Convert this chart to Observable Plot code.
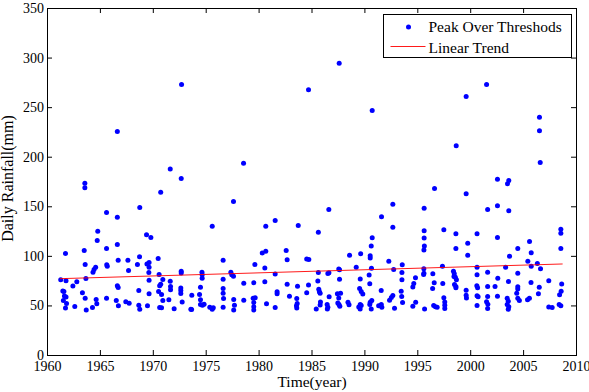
<!DOCTYPE html>
<html>
<head>
<meta charset="utf-8">
<script src="https://cdn.jsdelivr.net/npm/d3@7"></script>
<script src="https://cdn.jsdelivr.net/npm/@observablehq/plot@0.6"></script>
<style>
  html, body { margin: 0; padding: 0; background: #fff; }
  #chart { width: 589px; height: 392px; }
  #chart svg text { font-family: "Liberation Serif", "Times New Roman", Times, serif; }
</style>
</head>
<body>
<div id="chart"></div>
<script>
// Peak-over-threshold daily rainfall events: event time (decimal year) and amount (mm)
const years = [
  1961.25,1961.75,1961.7,1961.45,1961.55,1961.6,1961.75,1961.5,1961.8,1961.7,
  1962.77,1962.4,1962.58,
  1963.47,1963.53,1963.53,1963.56,1963.63,1963.3,1963.56,1963.66,
  1964.75,1964.7,1964.55,1964.4,1964.3,1964.25,1964.6,1964.66,
  1965.58,1965.58,1965.6,1965.65,1965.58,
  1966.6,1966.6,1966.6,1966.68,1966.6,1966.68,1966.5,1966.7,
  1967.6,1967.66,1967.4,1967.72,
  1968.72,1968.7,1968.5,1968.63,1968.63,1968.72,
  1969.36,1969.77,1969.4,1969.6,1969.6,1969.58,1969.6,1969.6,1969.45,
  1970.7,1970.46,1970.55,1970.9,1970.6,1970.7,1970.5,1970.78,1970.9,1970.6,1970.78,
  1971.6,1971.6,1971.63,1971.63,1971.47,1971.97,
  1972.67,1972.64,1972.64,1972.64,1972.6,1972.6,1972.6,1972.73,
  1973.64,1973.55,1973.62,
  1974.6,1974.62,1974.62,1974.46,1974.37,1974.46,1974.46,1974.64,1974.8,
  1975.57,1975.34,1975.57,1975.67,
  1976.6,1976.6,1976.6,1976.6,1976.64,1976.6,
  1977.58,1977.33,1977.42,1977.58,1977.6,1977.67,1977.6,
  1978.53,1978.55,1978.55,
  1979.6,1979.5,1979.44,1979.63,1979.5,1979.5,1979.5,
  1980.63,1980.3,1980.63,1980.54,1980.54,1980.7,
  1981.52,1981.52,1981.7,1981.7,1981.52,
  1982.56,1982.65,1982.65,1982.87,
  1983.7,1983.63,1983.56,1983.6,1983.53,1983.56,
  1984.67,1984.5,1984.7,1984.67,1984.5,
  1985.6,1985.6,1985.55,1985.64,1985.7,1985.77,1985.8,1985.77,1985.4,
  1986.59,1986.6,1986.5,1986.62,1986.43,1986.5,1986.45,
  1987.57,1987.53,1987.6,1987.6,1987.4,1987.7,1987.53,1987.44,1987.55,1987.63,
  1988.55,1988.4,1988.5,
  1989.6,1989.18,1989.56,1989.5,1989.65,1989.8,1989.56,1989.65,1989.42,1989.55,
  1990.69,1990.69,1990.6,1990.5,1990.5,1990.62,1990.4,1990.46,1990.65,1990.5,1990.46,1990.6,
  1991.57,1991.54,1991.3,1991.55,1991.6,
  1992.64,1992.64,1992.26,1992.72,1992.64,1992.5,1992.33,1992.8,
  1993.53,1993.5,1993.5,1993.43,1993.48,1993.56,
  1994.53,1994.62,1994.78,1994.53,1994.8,
  1995.6,1995.6,1995.6,1995.62,1995.58,1995.57,1995.58,1995.55,1995.64,
  1996.58,1996.42,1996.55,1996.4,1996.5,1996.67,1996.83,
  1997.46,1997.33,1997.36,1997.46,1997.55,1997.55,1997.55,
  1998.63,1998.6,1998.6,1998.37,1998.45,1998.42,1998.55,1998.65,1998.47,1998.6,1998.6,
  1999.57,1999.57,1999.72,1999.72,1999.57,1999.57,1999.6,
  2000.6,2000.6,2000.6,2000.58,2000.65,2000.6,2000.7,2000.6,
  2001.5,2001.6,2001.6,2001.6,2001.6,2001.5,2001.62,2001.6,
  2002.53,2002.53,2002.53,2002.56,2002.3,2002.53,
  2003.6,2003.48,2003.6,2003.67,2003.3,2003.57,2003.45,2003.55,2003.45,2003.6,2003.55,
  2004.45,2004.45,2004.45,2004.45,2004.35,2004.45,2004.6,
  2005.56,2005.72,2005.4,2005.72,2005.7,2005.37,2005.55,
  2006.5,2006.5,2006.57,2006.3,2006.6,2006.48,2006.4,
  2007.38,2007.38,2007.7,
  2008.52,2008.52,2008.52,2008.6,2008.55,2008.4,2008.36,2008.52
];
const rainfall = [
  76.3,75.5,103,65,64.5,60,59,55.5,52.5,48,
  74.3,70,49.4,
  106,173.8,169.1,91.8,77.6,63.2,57.8,46,
  125.4,116,89,86.7,84,48.4,56.5,52.1,
  144.2,108,91.5,90,57.8,
  226,139.5,112,96,70.3,68.6,55.5,50.1,
  96,85.7,54.2,52.8,
  149.3,99.5,91.8,65.6,50.7,46.7,
  121.7,119,92.4,93.8,89,83.7,76,62.2,50.1,
  164.7,97.8,81.7,76.7,70.3,71.9,64.6,61.5,55.5,48.4,48.1,
  188,75,69.6,66.2,56.2,47.1,
  273.4,178.5,85,83.2,68,65.5,62.5,54,
  60.8,46.7,46.4,
  84,81.5,77.8,68.9,61.5,56.2,51.4,50.8,51.6,
  130.4,48.7,46.7,48.1,
  96,77,67.6,62.8,57.5,48.7,
  155.3,84,81.4,80,56.5,50.7,46,
  194,72.8,55.8,
  91.8,73.5,57.8,58.2,53.5,49.2,45.8,
  130.4,103.4,105.2,88.3,74.5,52.1,
  136.2,82.2,64.2,62.2,48.4,
  106,96.7,71.8,59.7,
  131.1,69.9,57.5,52.5,50.3,47.9,
  268,97.3,96.8,71.2,63.3,
  124.4,83.8,75.2,66.9,64.3,62.8,54,51,46.9,
  147.3,83.4,82.6,59.2,51.4,48.7,46.9,
  294.8,87.3,86.5,77,62.2,62.8,58.1,53,51.4,49.6,
  101,53.8,51.2,
  102.6,89,77.2,67.5,64.5,62,51.4,50.4,49,47,
  247,118.7,110.4,100.5,98.3,88,81.2,72.3,55.5,53.8,51.4,46.9,
  140,65.6,50.1,51.4,48.7,
  152.6,129.4,95.1,86.7,60.5,58.5,55.8,47.7,
  91.6,83.8,76.4,64.8,59.5,53.5,
  69.2,72.5,78.5,49.8,53.8,
  148.6,125.8,118.5,110.5,106.3,87.5,83,81.7,46.8,
  168.4,82.4,73.5,67.5,50.4,49.1,48.7,
  126.8,90,72.6,58.2,54,50.7,47.5,
  211.5,122.8,108,85,82.4,79.7,79,76.4,71.6,69.6,68.3,
  261.3,163.1,113.3,101.2,65.8,60.8,58,
  122.8,89,81.4,70.3,68.3,60.3,59.2,50.4,
  273.4,147.3,84,69.6,59.5,54.2,51.7,47.5,
  177.8,151,119,78,69.6,59.8,
  176.5,173.2,146,100.2,89,74.6,57.8,54.8,51.4,49.2,46.6,
  108,83,69.3,67.2,62.8,57.8,55.5,
  115,103.6,95.1,90,73.6,56.2,57.8,
  240.4,226.6,194.7,92.8,87.5,68.9,62.2,
  75.3,49,48.3,
  127.4,123.4,108,72,64.8,61.2,51.4,50.1
];

// Fitted linear trend, end points
const trendYears = [1961.2, 2008.65];
const trendValues = [77.5, 92.3];

// Axis ticks and titles
const xTicks = [1960, 1965, 1970, 1975, 1980, 1985, 1990, 1995, 2000, 2005, 2010];
const yTicks = [0, 50, 100, 150, 200, 250, 300, 350];
const xTitle = "Time(year)";
const yTitle = "Daily Rainfall(mm)";
const legendLabels = ["Peak Over Threshods", "Linear Trend"];

const points = years.map((t, i) => ({year: t, rain: rainfall[i]}));
const trend = trendYears.map((t, i) => ({year: t, rain: trendValues[i]}));

const W = 589, H = 392;
const mL = 47, mR = 13, mT = 8, mB = 37;
const tickLen = 5;
const frameW = W - mL - mR, frameH = H - mT - mB;

const chart = Plot.plot({
  width: W,
  height: H,
  marginLeft: mL,
  marginRight: mR,
  marginTop: mT,
  marginBottom: mB,
  style: {fontSize: "14px", background: "white", color: "black", overflow: "visible"},
  x: {domain: [1960, 2010]},
  y: {domain: [0, 350]},
  marks: [
    Plot.dot(points, {x: "year", y: "rain", r: 2.5, fill: "#0000ff", stroke: null}),
    Plot.line(trend, {x: "year", y: "rain", stroke: "#ff0000", strokeWidth: 0.9}),
    // inward ticks on all four sides
    Plot.ruleX(xTicks, {x: d => d, insetTop: frameH - tickLen}),
    Plot.ruleX(xTicks, {x: d => d, insetBottom: frameH - tickLen}),
    Plot.ruleY(yTicks, {y: d => d, insetRight: frameW - tickLen}),
    Plot.ruleY(yTicks, {y: d => d, insetLeft: frameW - tickLen}),
    Plot.frame({stroke: "black"}),
    Plot.axisX({ticks: xTicks, tickSize: 0, tickPadding: 6, tickFormat: d => String(d), label: null}),
    Plot.axisY({ticks: yTicks, tickSize: 0, tickPadding: 3.5, tickFormat: d => String(d), label: null}),
    Plot.text([xTitle], {frameAnchor: "bottom", dy: 31.5, fontSize: 15.5})
  ]
});

const svg = d3.select(chart);

// Vertical axis title
svg.append("text")
  .attr("transform", `translate(7,${mT + frameH / 2 - 3}) rotate(-90)`)
  .attr("text-anchor", "middle")
  .attr("dy", "0.35em")
  .attr("font-size", 16)
  .attr("fill", "black")
  .text(yTitle);

// Legend box in the upper-right corner of the plot area
const boxRight = W - mR - 4.5, boxTop = mT + 6.5;
const boxW = 188, boxH = 43;
const boxLeft = boxRight - boxW;
const leg = svg.append("g").attr("font-size", 15.5).attr("text-anchor", "start");
leg.append("rect")
  .attr("x", boxLeft).attr("y", boxTop)
  .attr("width", boxW).attr("height", boxH)
  .attr("fill", "white").attr("stroke", "black");
const row1 = boxTop + 12.5, row2 = boxTop + 33;
const textX = boxLeft + 45;
leg.append("circle").attr("cx", boxLeft + 25).attr("cy", row1).attr("r", 2.5).attr("fill", "#0000ff");
leg.append("line")
  .attr("x1", boxLeft + 7).attr("x2", boxLeft + 42)
  .attr("y1", row2 - 1).attr("y2", row2 - 1)
  .attr("stroke", "#ff0000").attr("stroke-width", 0.9);
leg.selectAll("text.lbl").data(legendLabels).join("text")
  .attr("class", "lbl")
  .attr("x", textX)
  .attr("y", (d, i) => i === 0 ? row1 : row2)
  .attr("dy", "0.35em")
  .attr("text-anchor", "start")
  .attr("fill", "black")
  .text(d => d);

document.getElementById("chart").appendChild(chart);
</script>
</body>
</html>
